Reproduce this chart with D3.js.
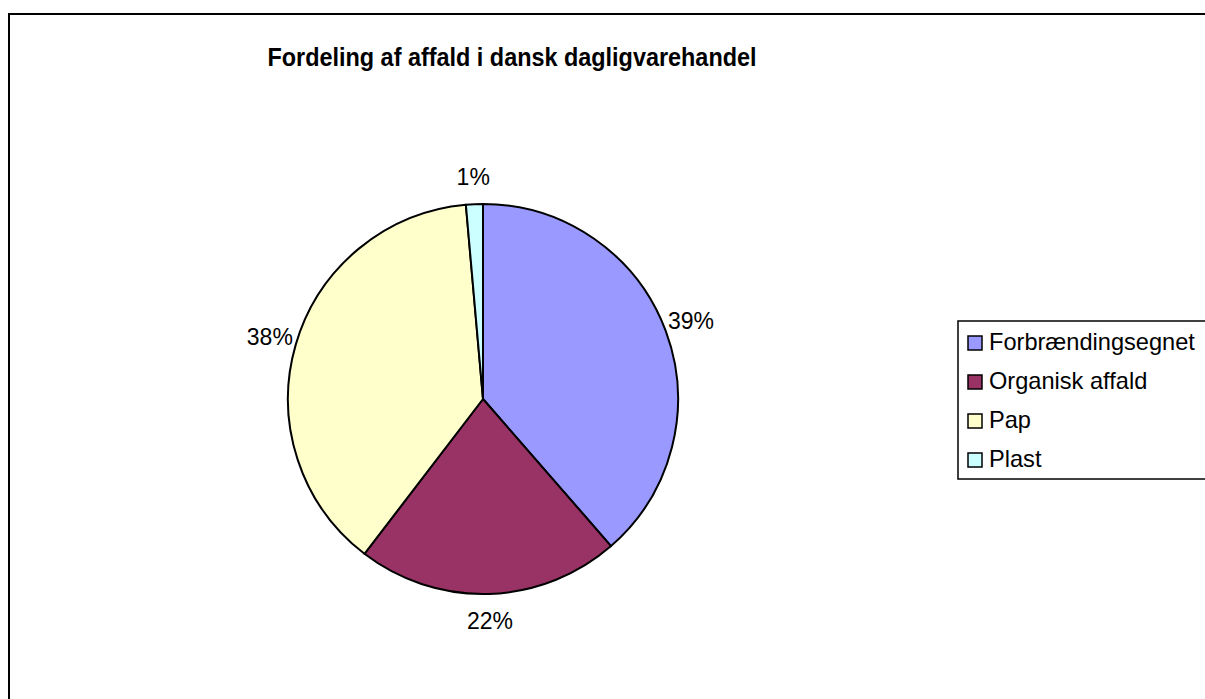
<!DOCTYPE html>
<html>
<head>
<meta charset="utf-8">
<script src="https://cdn.jsdelivr.net/npm/d3@7"></script>
<style>
  body { margin: 0; background: #ffffff; }
  text { font-family: "Liberation Sans", Arial, sans-serif; }
</style>
</head>
<body>
<div id="chart"></div>
<script>
// Data (shares in percent).
const categories = ["Forbrændingsegnet", "Organisk affald", "Pap", "Plast"];
const shares = [38.6, 21.8, 38.2, 1.4];
const labels = ["39%", "22%", "38%", "1%"];
const colors = ["#9999FF", "#993366", "#FFFFCC", "#CCFFFF"];

const width = 1205, height = 699;
const svg = d3.select("#chart").append("svg")
  .attr("width", width)
  .attr("height", height)
  .attr("viewBox", [0, 0, width, height]);

// Chart area border (runs off the right and bottom of the window).
svg.append("rect")
  .attr("x", 9).attr("y", 14)
  .attr("width", width + 20).attr("height", height + 20)
  .attr("fill", "none")
  .attr("stroke", "#000000")
  .attr("stroke-width", 2);

// Title: tall, slightly narrow bold face as in the original.
svg.append("text")
  .attr("x", 512)
  .attr("y", 66)
  .attr("text-anchor", "middle")
  .attr("font-size", "26px")
  .attr("font-weight", "bold")
  .attr("textLength", 489)
  .attr("lengthAdjust", "spacingAndGlyphs")
  .text("Fordeling af affald i dansk dagligvarehandel");

// Pie.
const cx = 483, cy = 399, radius = 195;
const pie = d3.pie().sort(null).value(d => d)(shares);
const arc = d3.arc().innerRadius(0).outerRadius(radius);
const labelArc = d3.arc().innerRadius(222).outerRadius(222);

const pieGroup = svg.append("g")
  .attr("transform", `translate(${cx}, ${cy})`);

pieGroup.selectAll(".slice")
  .data(pie)
  .join("path")
  .attr("class", "slice")
  .attr("d", arc)
  .attr("fill", (d, i) => colors[i])
  .attr("stroke", "#000000")
  .attr("stroke-width", 2)
  .attr("stroke-linejoin", "round");

pieGroup.selectAll(".sliceLabel")
  .data(pie)
  .join("text")
  .attr("class", "sliceLabel")
  .attr("transform", d => `translate(${labelArc.centroid(d)})`)
  .attr("text-anchor", "middle")
  .attr("dy", "0.36em")
  .attr("font-size", "23px")
  .attr("fill", "#000000")
  .text((d, i) => labels[i]);

// Legend.
const legend = svg.append("g").attr("class", "legend");
legend.append("rect")
  .attr("x", 958).attr("y", 321)
  .attr("width", 300).attr("height", 158)
  .attr("fill", "#ffffff")
  .attr("stroke", "#000000")
  .attr("stroke-width", 1.5);

const rowY = d3.scalePoint().domain(categories).range([342, 459]);
categories.forEach((name, i) => {
  legend.append("rect")
    .attr("x", 968)
    .attr("y", rowY(name) - 6)
    .attr("width", 14)
    .attr("height", 14)
    .attr("fill", colors[i])
    .attr("stroke", "#000000")
    .attr("stroke-width", 1.5);
  legend.append("text")
    .attr("x", 989)
    .attr("y", rowY(name))
    .attr("dy", "0.36em")
    .attr("font-size", "23.6px")
    .text(name);
});
</script>
</body>
</html>
